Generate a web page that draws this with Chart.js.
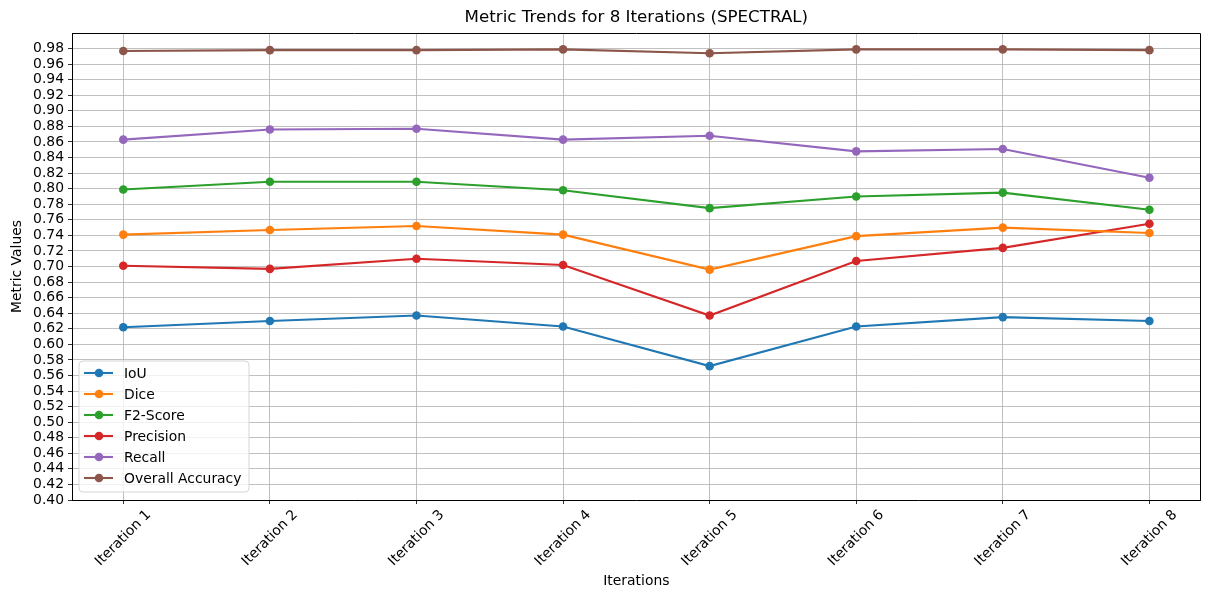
<!DOCTYPE html>
<html>
<head>
<meta charset="utf-8">
<title>Metric Trends for 8 Iterations (SPECTRAL)</title>
<script src="https://cdn.jsdelivr.net/npm/chart.js@4.4.1/dist/chart.umd.min.js"></script>
<style>
  html, body { margin: 0; padding: 0; background: #ffffff; }
  #wrap { width: 1205px; height: 592px; }
  canvas { display: block; }
</style>
</head>
<body>
<div id="wrap"><canvas id="chart" width="1205" height="592"></canvas></div>
<script>
// Categories along the x axis
const iterations = ['Iteration 1', 'Iteration 2', 'Iteration 3', 'Iteration 4',
                    'Iteration 5', 'Iteration 6', 'Iteration 7', 'Iteration 8'];

// Metric values per iteration
const iou       = [0.622, 0.630, 0.637, 0.623, 0.572, 0.623, 0.635, 0.630];
const dice      = [0.741, 0.747, 0.752, 0.741, 0.696, 0.739, 0.750, 0.743];
const f2Score   = [0.799, 0.809, 0.809, 0.798, 0.775, 0.790, 0.795, 0.773];
const precision = [0.701, 0.697, 0.710, 0.702, 0.637, 0.707, 0.724, 0.755];
const recall    = [0.863, 0.876, 0.877, 0.863, 0.868, 0.848, 0.851, 0.814];
const overallAccuracy = [0.977, 0.978, 0.978, 0.979, 0.974, 0.979, 0.979, 0.978];

// Y axis tick values
const yTicks = [0.40, 0.42, 0.44, 0.46, 0.48, 0.50, 0.52, 0.54, 0.56, 0.58,
                0.60, 0.62, 0.64, 0.66, 0.68, 0.70, 0.72, 0.74, 0.76, 0.78,
                0.80, 0.82, 0.84, 0.86, 0.88, 0.90, 0.92, 0.94, 0.96, 0.98];

const seriesNames = ['IoU', 'Dice', 'F2-Score', 'Precision', 'Recall', 'Overall Accuracy'];
const seriesValues = [iou, dice, f2Score, precision, recall, overallAccuracy];
const seriesColors = ['#1f77b4', '#ff7f0e', '#2ca02c', '#d62728', '#9467bd', '#8c564b'];

const FONT = 'DejaVu Sans';
const TICK_PX = 13.9;

Chart.defaults.font.family = FONT;
Chart.defaults.color = '#000000';

const datasets = seriesNames.map((name, k) => ({
  label: name,
  data: seriesValues[k].map((v, i) => ({ x: i, y: v })),
  borderColor: seriesColors[k],
  backgroundColor: seriesColors[k],
  pointBackgroundColor: seriesColors[k],
  pointBorderWidth: 0,
  pointRadius: 4.3,
  borderWidth: 2.1,
  tension: 0,
  fill: false
}));

// Frame, rotated category labels and the in-plot legend
const decorations = {
  id: 'decorations',
  afterDraw(chart) {
    const ctx = chart.ctx;
    const area = chart.chartArea;
    const xs = chart.scales.x;

    // top and right spines
    ctx.save();
    ctx.strokeStyle = '#000000';
    ctx.lineWidth = 1;
    ctx.beginPath();
    ctx.moveTo(Math.round(area.left) + 0.5, Math.round(area.top) + 0.5);
    ctx.lineTo(Math.round(area.right) - 0.5, Math.round(area.top) + 0.5);
    ctx.lineTo(Math.round(area.right) - 0.5, Math.round(area.bottom) + 0.5);
    ctx.stroke();
    ctx.restore();

    // category labels, rotated 45 degrees and centred under each tick
    ctx.save();
    ctx.font = TICK_PX + 'px "' + FONT + '"';
    ctx.fillStyle = '#000000';
    ctx.textAlign = 'center';
    ctx.textBaseline = 'middle';
    iterations.forEach((lab, i) => {
      const w = ctx.measureText(lab).width;
      const h = TICK_PX * 1.15;
      const side = (w + h) / Math.SQRT2;
      const cx = xs.getPixelForValue(i);
      const cy = area.bottom + 7 + side / 2;
      ctx.save();
      ctx.translate(cx, cy);
      ctx.rotate(-Math.PI / 4);
      ctx.fillText(lab, 0, 0);
      ctx.restore();
    });
    ctx.restore();

    // legend box in the lower-left corner of the plot
    ctx.save();
    const bx = area.left + 7, by = area.bottom - 139, bw = 170, bh = 131, r = 4;
    ctx.beginPath();
    ctx.moveTo(bx + r, by);
    ctx.lineTo(bx + bw - r, by);
    ctx.arcTo(bx + bw, by, bx + bw, by + r, r);
    ctx.lineTo(bx + bw, by + bh - r);
    ctx.arcTo(bx + bw, by + bh, bx + bw - r, by + bh, r);
    ctx.lineTo(bx + r, by + bh);
    ctx.arcTo(bx, by + bh, bx, by + bh - r, r);
    ctx.lineTo(bx, by + r);
    ctx.arcTo(bx, by, bx + r, by, r);
    ctx.closePath();
    ctx.fillStyle = 'rgba(255,255,255,0.8)';
    ctx.fill();
    ctx.strokeStyle = '#d6d6d6';
    ctx.lineWidth = 1;
    ctx.stroke();

    ctx.font = TICK_PX + 'px "' + FONT + '"';
    ctx.textAlign = 'left';
    ctx.textBaseline = 'middle';
    chart.data.datasets.forEach((ds, k) => {
      const y = by + 12 + k * 21;
      ctx.strokeStyle = ds.borderColor;
      ctx.lineWidth = 2.1;
      ctx.beginPath();
      ctx.moveTo(bx + 5, y);
      ctx.lineTo(bx + 34, y);
      ctx.stroke();
      ctx.fillStyle = ds.borderColor;
      ctx.beginPath();
      ctx.arc(bx + 20, y, 4.3, 0, Math.PI * 2);
      ctx.fill();
      ctx.fillStyle = '#000000';
      ctx.fillText(ds.label, bx + 45, y + 1);
    });
    ctx.restore();
  }
};

new Chart(document.getElementById('chart'), {
  type: 'line',
  data: { datasets },
  options: {
    responsive: false,
    animation: false,
    devicePixelRatio: 1,
    layout: { padding: { left: 0, right: 3, top: 0, bottom: 0 } },
    plugins: {
      legend: { display: false },
      tooltip: { enabled: false },
      title: {
        display: true,
        fullSize: false,
        text: 'Metric Trends for 8 Iterations (SPECTRAL)',
        color: '#000000',
        font: { family: FONT, size: 16.7, weight: 'normal' },
        padding: { top: 8, bottom: 5 }
      }
    },
    scales: {
      x: {
        type: 'linear',
        min: -0.35,
        max: 7.35,
        afterBuildTicks: (s) => { s.ticks = iterations.map((_, i) => ({ value: i })); },
        afterFit: (s) => { s.height = 92; },
        ticks: { display: false, autoSkip: false },
        grid: { color: '#b0b0b0', lineWidth: 0.8, tickColor: '#000000', tickLength: 4, drawTicks: true },
        border: { color: '#000000', width: 1 },
        title: {
          display: true,
          text: 'Iterations',
          color: '#000000',
          font: { family: FONT, size: TICK_PX },
          padding: { top: 0, bottom: 2 }
        }
      },
      y: {
        type: 'linear',
        min: 0.40,
        max: 1.00,
        afterBuildTicks: (s) => { s.ticks = yTicks.map(v => ({ value: v })); },
        afterFit: (s) => { s.width = 72; },
        ticks: {
          color: '#000000',
          autoSkip: false,
          font: { family: FONT, size: TICK_PX },
          padding: 4,
          callback: (v) => Number(v).toFixed(2)
        },
        grid: { color: '#b0b0b0', lineWidth: 0.8, tickColor: '#000000', tickLength: 4 },
        border: { color: '#000000', width: 1 },
        title: {
          display: true,
          text: 'Metric Values',
          color: '#000000',
          font: { family: FONT, size: TICK_PX },
          padding: { top: 9, bottom: 0 }
        }
      }
    }
  },
  plugins: [decorations]
});
</script>
</body>
</html>
